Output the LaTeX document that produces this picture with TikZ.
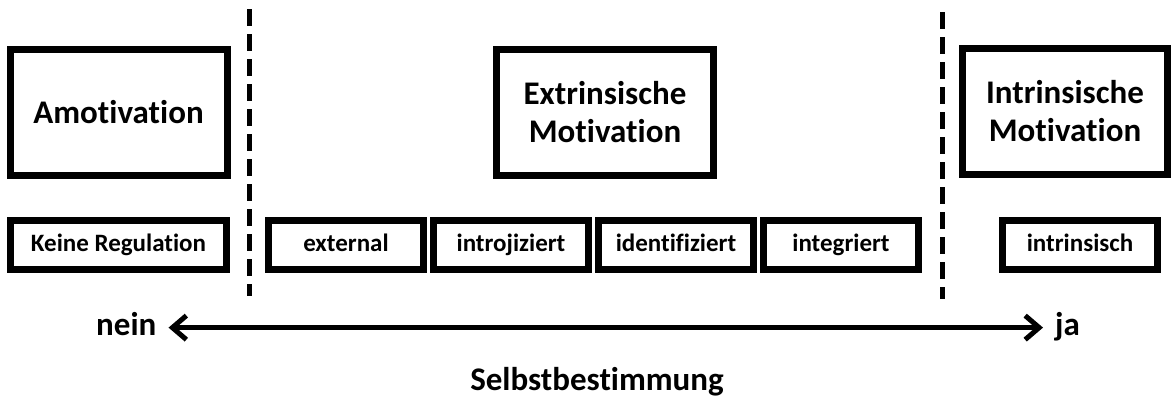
\documentclass[tikz,border=0pt]{standalone}
\usepackage{fontspec}
\setmainfont{Carlito}[Ligatures={NoCommon,NoContextual}]
\usetikzlibrary{positioning}
\usetikzlibrary{arrows.meta}

\begin{document}
\begin{tikzpicture} [x=1pt, y=-1pt, node distance = 3pt]
            % Set primary nodes
            \tikzset{
                bigBox/.style={
                        draw,
                        rectangle,
                        line width=7pt,
                        minimum height=126pt,
                        minimum width=217pt,
                        align=center,
                        font=\fontsize{33}{38}\selectfont\bfseries
                    }
            }
            \tikzset{
                smallBox/.style={
                        draw,
                        rectangle,
                        line width=7pt,
                        minimum height=49pt,
                        minimum width=155pt,
                        text height=17pt,
                        text depth=5pt,
                        font=\fontsize{25}{30}\selectfont\bfseries
                    }
            }
            \tikzset{
                labelNode/.style={
                        inner sep=0pt,
                        font=\fontsize{33}{38}\selectfont\bfseries
                    }
            }
            % Configure lines
            \tikzstyle{separator} = [line width=5pt, dash pattern=on 17pt off 8pt]
            \tikzstyle{arrow} = [line width=5pt, {Straight Barb[length=14pt,width=24pt]}-{Straight Barb[length=14pt,width=24pt]}, shorten <=12pt, shorten >=12pt]
            \useasboundingbox (0,0) rectangle (1175,399);
            % Placing nodes
            \node[bigBox](amotivation) at (118.5,112){Amotivation};
            \node[bigBox](extrinsic) at (605,112.5){Extrinsische\\Motivation};
            \node[bigBox, minimum width=205pt](intrinsic) at (1065,111.5){Intrinsische\\Motivation};
            \node[smallBox, minimum width=216pt](noRegulation) at (118.5,245){Keine Regulation};
            \node[smallBox](external) at (346,245){external};
            \node[smallBox, right = of external](introjected){introjiziert};
            \node[smallBox, right = of introjected](identified){identifiziert};
            \node[smallBox, right = of identified](integrated){integriert};
            \node[smallBox](intrinsicReg) at (1080,245){intrinsisch};
            \node[labelNode, anchor=base west](no) at (96,335){nein};
            \node[labelNode, anchor=base west](yes) at (1055,335){ja};
            \node[labelNode, anchor=base](selfDetermination) at (597,390){Selbstbestimmung};
            % Separators
            \coordinate (sepLeftTop) at (249,9);
            \coordinate (sepLeftBottom) at (249,296);
            \coordinate (sepRightTop) at (942,12);
            \coordinate (sepRightBottom) at (942,299);
            \draw[separator](sepLeftTop) -- (sepLeftBottom);
            \draw[separator](sepRightTop) -- (sepRightBottom);
            % Draw arrows
            \draw[arrow]([yshift=5pt]no.mid east) -- ([yshift=5pt]yes.mid west);

        \end{tikzpicture}
\end{document}
